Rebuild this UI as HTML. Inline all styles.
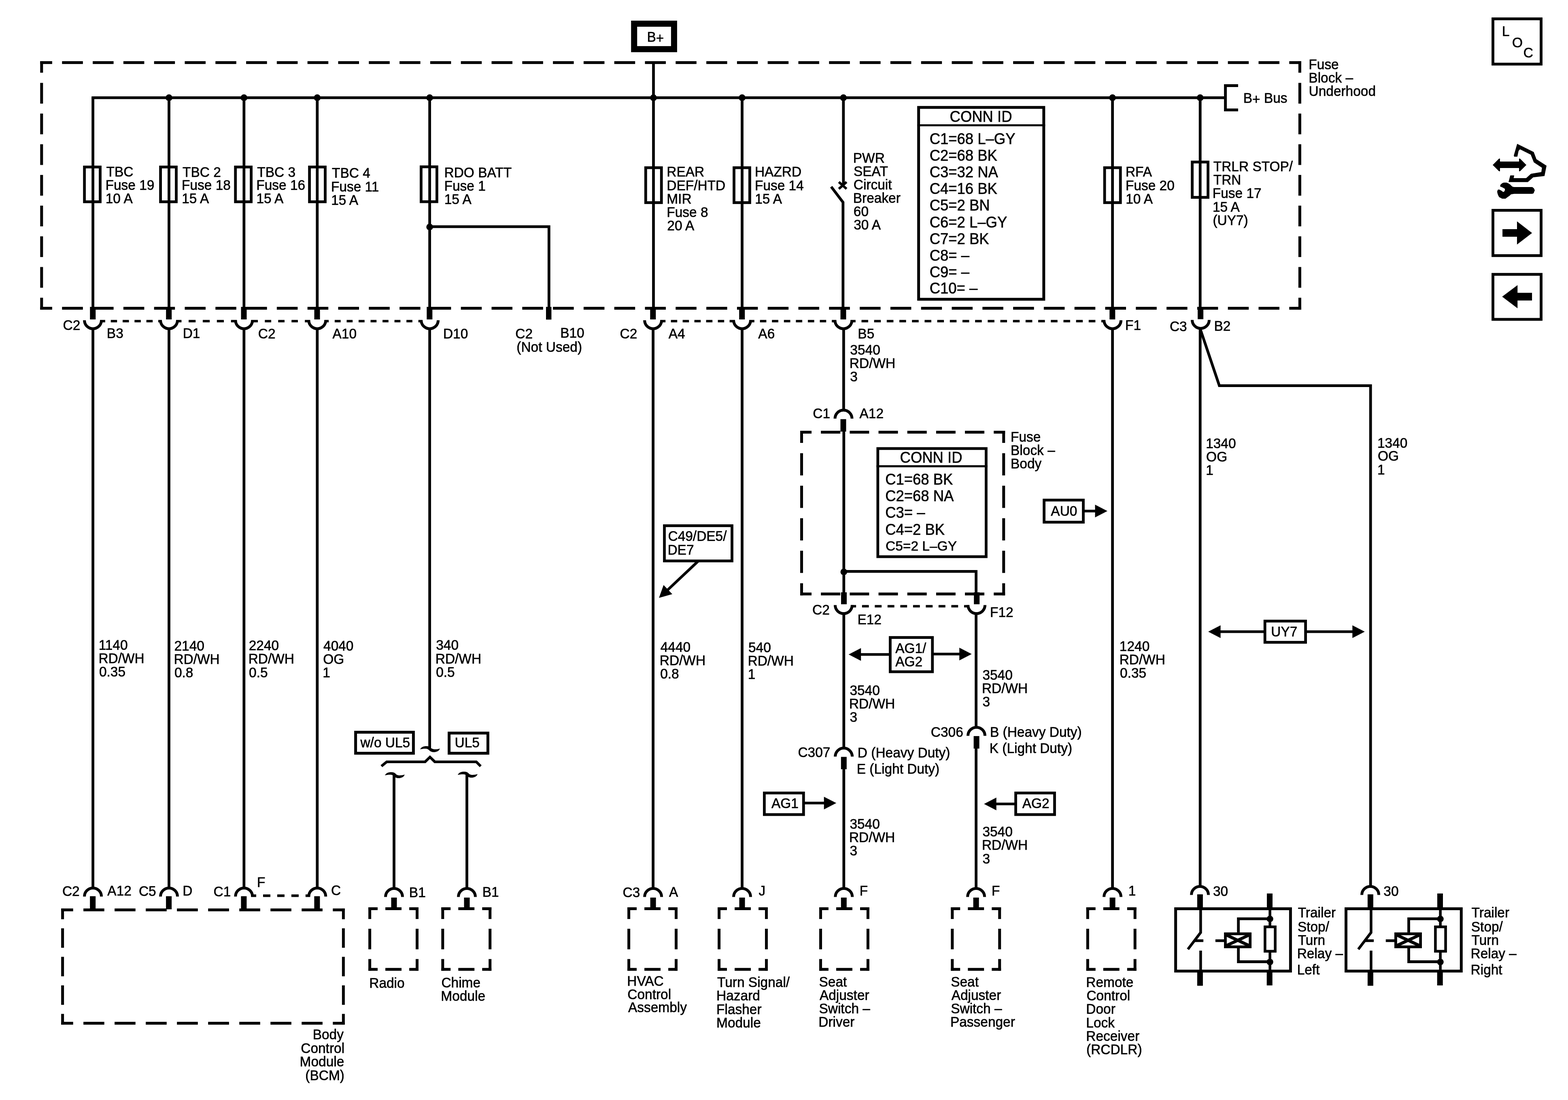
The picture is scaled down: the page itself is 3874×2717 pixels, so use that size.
<!DOCTYPE html>
<html lang="en">
<head>
<meta charset="utf-8">
<title>Power Distribution Schematic</title>
<style>
html,body{margin:0;padding:0;background:#fff;}
body{width:3874px;height:2717px;overflow:hidden;}
svg{display:block;filter:grayscale(1);}
svg text{font-family:"Liberation Sans",sans-serif;fill:#000;stroke:#000;stroke-linejoin:round;}
</style>
</head>
<body>
<svg width="3874" height="2717" viewBox="0 0 3874 2717" stroke="#000" fill="none">
<rect x="0" y="0" width="3874" height="2717" fill="#fff" stroke="none"/>
<line x1="226.2" y1="241.4" x2="3025" y2="241.4" stroke-width="6.8"/>
<path d="M3059,211.5 L3027.6,211.5 L3027.6,271.5 L3059,271.5" fill="none" stroke-width="7" stroke-linejoin="miter" stroke-linecap="butt" stroke-miterlimit="10"/>
<circle cx="417.5" cy="241.4" r="8.3" fill="#000" stroke="none"/>
<circle cx="602.8" cy="241.4" r="8.3" fill="#000" stroke="none"/>
<circle cx="783.8" cy="241.4" r="8.3" fill="#000" stroke="none"/>
<circle cx="1061.6" cy="241.4" r="8.3" fill="#000" stroke="none"/>
<circle cx="1614.5" cy="241.4" r="8.3" fill="#000" stroke="none"/>
<circle cx="1833.5" cy="241.4" r="8.3" fill="#000" stroke="none"/>
<circle cx="2083.8" cy="241.4" r="8.3" fill="#000" stroke="none"/>
<circle cx="2748.6" cy="241.4" r="8.3" fill="#000" stroke="none"/>
<circle cx="2965.2" cy="241.4" r="8.3" fill="#000" stroke="none"/>
<line x1="1614.5" y1="155" x2="1614.5" y2="241.4" stroke-width="6.8"/>
<rect x="1566.7" y="58.5" width="98.7" height="62.9" fill="none" stroke-width="15"/>
<line x1="229.6" y1="241.4" x2="229.6" y2="760" stroke-width="6.8"/>
<line x1="417.5" y1="241.4" x2="417.5" y2="760" stroke-width="6.8"/>
<line x1="602.8" y1="241.4" x2="602.8" y2="760" stroke-width="6.8"/>
<line x1="783.8" y1="241.4" x2="783.8" y2="760" stroke-width="6.8"/>
<line x1="1061.6" y1="241.4" x2="1061.6" y2="760" stroke-width="6.8"/>
<line x1="1614.5" y1="241.4" x2="1614.5" y2="760" stroke-width="6.8"/>
<line x1="1833.5" y1="241.4" x2="1833.5" y2="760" stroke-width="6.8"/>
<line x1="2748.6" y1="241.4" x2="2748.6" y2="760" stroke-width="6.8"/>
<line x1="2965.2" y1="241.4" x2="2965.2" y2="760" stroke-width="6.8"/>
<line x1="2083.8" y1="241.4" x2="2083.8" y2="456" stroke-width="6.8"/>
<line x1="2072.5" y1="449.5" x2="2091.5" y2="466.5" stroke-width="6"/>
<line x1="2091.5" y1="449.5" x2="2072.5" y2="466.5" stroke-width="6"/>
<path d="M2053.6,461.2 L2082.8,499.6 L2082.8,760" fill="none" stroke-width="6.8" stroke-linejoin="miter" stroke-linecap="butt" stroke-miterlimit="10"/>
<circle cx="1061.6" cy="560.6" r="8.3" fill="#000" stroke="none"/>
<path d="M1061.6,559.8 L1356.3,559.8 L1356.3,760" fill="none" stroke-width="6.8" stroke-linejoin="miter" stroke-linecap="butt" stroke-miterlimit="10"/>
<rect x="208.6" y="412.5" width="38.9" height="85.9" fill="none" stroke-width="6.8"/>
<rect x="396.6" y="412.5" width="38.9" height="85.9" fill="none" stroke-width="6.8"/>
<rect x="581.7" y="412.5" width="38.9" height="85.9" fill="none" stroke-width="6.8"/>
<rect x="764.6" y="412.5" width="38.9" height="85.9" fill="none" stroke-width="6.8"/>
<rect x="1040.4" y="412" width="39" height="86.2" fill="none" stroke-width="6.8"/>
<rect x="1595.3" y="414.2" width="38.9" height="86.3" fill="none" stroke-width="6.8"/>
<rect x="1813.5" y="414.2" width="38.9" height="86.3" fill="none" stroke-width="6.8"/>
<rect x="2729.1" y="414.2" width="39.1" height="86.3" fill="none" stroke-width="6.8"/>
<rect x="2945.6" y="400.2" width="39" height="87.3" fill="none" stroke-width="6.8"/>
<rect x="99.3" y="151.1" width="29.6" height="7" fill="#000" stroke="none"/>
<rect x="153.3" y="151.1" width="51.5" height="7" fill="#000" stroke="none"/>
<rect x="229.1" y="151.1" width="51.5" height="7" fill="#000" stroke="none"/>
<rect x="304.9" y="151.1" width="51.5" height="7" fill="#000" stroke="none"/>
<rect x="380.7" y="151.1" width="51.5" height="7" fill="#000" stroke="none"/>
<rect x="456.5" y="151.1" width="51.5" height="7" fill="#000" stroke="none"/>
<rect x="532.3" y="151.1" width="51.5" height="7" fill="#000" stroke="none"/>
<rect x="608.1" y="151.1" width="51.5" height="7" fill="#000" stroke="none"/>
<rect x="683.9" y="151.1" width="51.5" height="7" fill="#000" stroke="none"/>
<rect x="759.7" y="151.1" width="51.5" height="7" fill="#000" stroke="none"/>
<rect x="835.5" y="151.1" width="51.5" height="7" fill="#000" stroke="none"/>
<rect x="911.3" y="151.1" width="51.5" height="7" fill="#000" stroke="none"/>
<rect x="987.1" y="151.1" width="51.5" height="7" fill="#000" stroke="none"/>
<rect x="1062.9" y="151.1" width="51.5" height="7" fill="#000" stroke="none"/>
<rect x="1138.7" y="151.1" width="51.5" height="7" fill="#000" stroke="none"/>
<rect x="1214.5" y="151.1" width="51.5" height="7" fill="#000" stroke="none"/>
<rect x="1290.3" y="151.1" width="51.5" height="7" fill="#000" stroke="none"/>
<rect x="1366.1" y="151.1" width="51.5" height="7" fill="#000" stroke="none"/>
<rect x="1441.9" y="151.1" width="51.5" height="7" fill="#000" stroke="none"/>
<rect x="1517.7" y="151.1" width="51.5" height="7" fill="#000" stroke="none"/>
<rect x="1593.5" y="151.1" width="51.5" height="7" fill="#000" stroke="none"/>
<rect x="1669.3" y="151.1" width="51.5" height="7" fill="#000" stroke="none"/>
<rect x="1745.1" y="151.1" width="51.5" height="7" fill="#000" stroke="none"/>
<rect x="1820.9" y="151.1" width="51.5" height="7" fill="#000" stroke="none"/>
<rect x="1896.7" y="151.1" width="51.5" height="7" fill="#000" stroke="none"/>
<rect x="1972.5" y="151.1" width="51.5" height="7" fill="#000" stroke="none"/>
<rect x="2048.3" y="151.1" width="51.5" height="7" fill="#000" stroke="none"/>
<rect x="2124.1" y="151.1" width="51.5" height="7" fill="#000" stroke="none"/>
<rect x="2199.9" y="151.1" width="51.5" height="7" fill="#000" stroke="none"/>
<rect x="2275.7" y="151.1" width="51.5" height="7" fill="#000" stroke="none"/>
<rect x="2351.5" y="151.1" width="51.5" height="7" fill="#000" stroke="none"/>
<rect x="2427.3" y="151.1" width="51.5" height="7" fill="#000" stroke="none"/>
<rect x="2503.1" y="151.1" width="51.5" height="7" fill="#000" stroke="none"/>
<rect x="2578.9" y="151.1" width="51.5" height="7" fill="#000" stroke="none"/>
<rect x="2654.7" y="151.1" width="51.5" height="7" fill="#000" stroke="none"/>
<rect x="2730.5" y="151.1" width="51.5" height="7" fill="#000" stroke="none"/>
<rect x="2806.3" y="151.1" width="51.5" height="7" fill="#000" stroke="none"/>
<rect x="2882.1" y="151.1" width="51.5" height="7" fill="#000" stroke="none"/>
<rect x="2957.9" y="151.1" width="51.5" height="7" fill="#000" stroke="none"/>
<rect x="3033.7" y="151.1" width="51.5" height="7" fill="#000" stroke="none"/>
<rect x="3109.5" y="151.1" width="51.5" height="7" fill="#000" stroke="none"/>
<rect x="3185.3" y="151.1" width="29.6" height="7" fill="#000" stroke="none"/>
<rect x="99.3" y="757.9" width="29.6" height="7" fill="#000" stroke="none"/>
<rect x="153.3" y="757.9" width="51.5" height="7" fill="#000" stroke="none"/>
<rect x="229.1" y="757.9" width="51.5" height="7" fill="#000" stroke="none"/>
<rect x="304.9" y="757.9" width="51.5" height="7" fill="#000" stroke="none"/>
<rect x="380.7" y="757.9" width="51.5" height="7" fill="#000" stroke="none"/>
<rect x="456.5" y="757.9" width="51.5" height="7" fill="#000" stroke="none"/>
<rect x="532.3" y="757.9" width="51.5" height="7" fill="#000" stroke="none"/>
<rect x="608.1" y="757.9" width="51.5" height="7" fill="#000" stroke="none"/>
<rect x="683.9" y="757.9" width="51.5" height="7" fill="#000" stroke="none"/>
<rect x="759.7" y="757.9" width="51.5" height="7" fill="#000" stroke="none"/>
<rect x="835.5" y="757.9" width="51.5" height="7" fill="#000" stroke="none"/>
<rect x="911.3" y="757.9" width="51.5" height="7" fill="#000" stroke="none"/>
<rect x="987.1" y="757.9" width="51.5" height="7" fill="#000" stroke="none"/>
<rect x="1062.9" y="757.9" width="51.5" height="7" fill="#000" stroke="none"/>
<rect x="1138.7" y="757.9" width="51.5" height="7" fill="#000" stroke="none"/>
<rect x="1214.5" y="757.9" width="51.5" height="7" fill="#000" stroke="none"/>
<rect x="1290.3" y="757.9" width="51.5" height="7" fill="#000" stroke="none"/>
<rect x="1366.1" y="757.9" width="51.5" height="7" fill="#000" stroke="none"/>
<rect x="1441.9" y="757.9" width="51.5" height="7" fill="#000" stroke="none"/>
<rect x="1517.7" y="757.9" width="51.5" height="7" fill="#000" stroke="none"/>
<rect x="1593.5" y="757.9" width="51.5" height="7" fill="#000" stroke="none"/>
<rect x="1669.3" y="757.9" width="51.5" height="7" fill="#000" stroke="none"/>
<rect x="1745.1" y="757.9" width="51.5" height="7" fill="#000" stroke="none"/>
<rect x="1820.9" y="757.9" width="51.5" height="7" fill="#000" stroke="none"/>
<rect x="1896.7" y="757.9" width="51.5" height="7" fill="#000" stroke="none"/>
<rect x="1972.5" y="757.9" width="51.5" height="7" fill="#000" stroke="none"/>
<rect x="2048.3" y="757.9" width="51.5" height="7" fill="#000" stroke="none"/>
<rect x="2124.1" y="757.9" width="51.5" height="7" fill="#000" stroke="none"/>
<rect x="2199.9" y="757.9" width="51.5" height="7" fill="#000" stroke="none"/>
<rect x="2275.7" y="757.9" width="51.5" height="7" fill="#000" stroke="none"/>
<rect x="2351.5" y="757.9" width="51.5" height="7" fill="#000" stroke="none"/>
<rect x="2427.3" y="757.9" width="51.5" height="7" fill="#000" stroke="none"/>
<rect x="2503.1" y="757.9" width="51.5" height="7" fill="#000" stroke="none"/>
<rect x="2578.9" y="757.9" width="51.5" height="7" fill="#000" stroke="none"/>
<rect x="2654.7" y="757.9" width="51.5" height="7" fill="#000" stroke="none"/>
<rect x="2730.5" y="757.9" width="51.5" height="7" fill="#000" stroke="none"/>
<rect x="2806.3" y="757.9" width="51.5" height="7" fill="#000" stroke="none"/>
<rect x="2882.1" y="757.9" width="51.5" height="7" fill="#000" stroke="none"/>
<rect x="2957.9" y="757.9" width="51.5" height="7" fill="#000" stroke="none"/>
<rect x="3033.7" y="757.9" width="51.5" height="7" fill="#000" stroke="none"/>
<rect x="3109.5" y="757.9" width="51.5" height="7" fill="#000" stroke="none"/>
<rect x="3185.3" y="757.9" width="29.6" height="7" fill="#000" stroke="none"/>
<rect x="99.3" y="151.1" width="7" height="28.5" fill="#000" stroke="none"/>
<rect x="99.3" y="204.7" width="7" height="51.2" fill="#000" stroke="none"/>
<rect x="99.3" y="280.5" width="7" height="51.2" fill="#000" stroke="none"/>
<rect x="99.3" y="356.3" width="7" height="51.2" fill="#000" stroke="none"/>
<rect x="99.3" y="432.1" width="7" height="51.2" fill="#000" stroke="none"/>
<rect x="99.3" y="507.9" width="7" height="51.2" fill="#000" stroke="none"/>
<rect x="99.3" y="583.7" width="7" height="51.2" fill="#000" stroke="none"/>
<rect x="99.3" y="659.5" width="7" height="51.2" fill="#000" stroke="none"/>
<rect x="99.3" y="735.4" width="7" height="29.5" fill="#000" stroke="none"/>
<rect x="3207.9" y="151.1" width="7" height="28.5" fill="#000" stroke="none"/>
<rect x="3207.9" y="204.7" width="7" height="51.2" fill="#000" stroke="none"/>
<rect x="3207.9" y="280.5" width="7" height="51.2" fill="#000" stroke="none"/>
<rect x="3207.9" y="356.3" width="7" height="51.2" fill="#000" stroke="none"/>
<rect x="3207.9" y="432.1" width="7" height="51.2" fill="#000" stroke="none"/>
<rect x="3207.9" y="507.9" width="7" height="51.2" fill="#000" stroke="none"/>
<rect x="3207.9" y="583.7" width="7" height="51.2" fill="#000" stroke="none"/>
<rect x="3207.9" y="659.5" width="7" height="51.2" fill="#000" stroke="none"/>
<rect x="3207.9" y="735.4" width="7" height="29.5" fill="#000" stroke="none"/>
<rect x="222.3" y="758" width="14" height="31" fill="#000" stroke="none"/>
<path d="M208.6,790.9 A21.0 21.0 0 0 0 250.6,790.9" fill="none" stroke-width="7.0"/>
<rect x="410.2" y="758" width="14" height="31" fill="#000" stroke="none"/>
<path d="M396.5,790.9 A21.0 21.0 0 0 0 438.5,790.9" fill="none" stroke-width="7.0"/>
<rect x="595.5" y="758" width="14" height="31" fill="#000" stroke="none"/>
<path d="M581.8,790.9 A21.0 21.0 0 0 0 623.8,790.9" fill="none" stroke-width="7.0"/>
<rect x="776.5" y="758" width="14" height="31" fill="#000" stroke="none"/>
<path d="M762.8,790.9 A21.0 21.0 0 0 0 804.8,790.9" fill="none" stroke-width="7.0"/>
<rect x="1054.3" y="758" width="14" height="31" fill="#000" stroke="none"/>
<path d="M1040.6,790.9 A21.0 21.0 0 0 0 1082.6,790.9" fill="none" stroke-width="7.0"/>
<rect x="1606.3" y="758" width="14" height="31" fill="#000" stroke="none"/>
<path d="M1592.6,790.9 A21.0 21.0 0 0 0 1634.6,790.9" fill="none" stroke-width="7.0"/>
<rect x="1826.2" y="758" width="14" height="31" fill="#000" stroke="none"/>
<path d="M1812.5,790.9 A21.0 21.0 0 0 0 1854.5,790.9" fill="none" stroke-width="7.0"/>
<rect x="2076.5" y="758" width="14" height="31" fill="#000" stroke="none"/>
<path d="M2062.8,790.9 A21.0 21.0 0 0 0 2104.8,790.9" fill="none" stroke-width="7.0"/>
<rect x="2741.3" y="758" width="14" height="31" fill="#000" stroke="none"/>
<path d="M2727.6,790.9 A21.0 21.0 0 0 0 2769.6,790.9" fill="none" stroke-width="7.0"/>
<rect x="2959.1" y="758" width="14" height="30.4" fill="#000" stroke="none"/>
<path d="M2945.5,790.2 A21.0 21.0 0 0 0 2987.5,790.2" fill="none" stroke-width="7.0"/>
<rect x="1349" y="758" width="13.4" height="31.4" fill="#000" stroke="none"/>
<rect x="247.1" y="790.2" width="12.8" height="6" fill="#000" stroke="none"/>
<rect x="273.72" y="790.2" width="15.5" height="6" fill="#000" stroke="none"/>
<rect x="303.04" y="790.2" width="15.5" height="6" fill="#000" stroke="none"/>
<rect x="332.36" y="790.2" width="15.5" height="6" fill="#000" stroke="none"/>
<rect x="361.68" y="790.2" width="15.5" height="6" fill="#000" stroke="none"/>
<rect x="391" y="790.2" width="9" height="6" fill="#000" stroke="none"/>
<rect x="435" y="790.2" width="13.4" height="6" fill="#000" stroke="none"/>
<rect x="466.07" y="790.2" width="17.2" height="6" fill="#000" stroke="none"/>
<rect x="500.95" y="790.2" width="17.2" height="6" fill="#000" stroke="none"/>
<rect x="535.83" y="790.2" width="17.2" height="6" fill="#000" stroke="none"/>
<rect x="570.7" y="790.2" width="14.6" height="6" fill="#000" stroke="none"/>
<rect x="620.3" y="790.2" width="16.8" height="6" fill="#000" stroke="none"/>
<rect x="654.35" y="790.2" width="15.7" height="6" fill="#000" stroke="none"/>
<rect x="687.3" y="790.2" width="15.7" height="6" fill="#000" stroke="none"/>
<rect x="720.25" y="790.2" width="15.7" height="6" fill="#000" stroke="none"/>
<rect x="753.2" y="790.2" width="13.1" height="6" fill="#000" stroke="none"/>
<rect x="801.3" y="790.2" width="10.8" height="6" fill="#000" stroke="none"/>
<rect x="826.94" y="790.2" width="14.7" height="6" fill="#000" stroke="none"/>
<rect x="856.48" y="790.2" width="14.7" height="6" fill="#000" stroke="none"/>
<rect x="886.01" y="790.2" width="14.7" height="6" fill="#000" stroke="none"/>
<rect x="915.55" y="790.2" width="14.7" height="6" fill="#000" stroke="none"/>
<rect x="945.09" y="790.2" width="14.7" height="6" fill="#000" stroke="none"/>
<rect x="974.63" y="790.2" width="14.7" height="6" fill="#000" stroke="none"/>
<rect x="1004.16" y="790.2" width="14.7" height="6" fill="#000" stroke="none"/>
<rect x="1033.7" y="790.2" width="10.4" height="6" fill="#000" stroke="none"/>
<rect x="1631.1" y="790.2" width="13.1" height="6" fill="#000" stroke="none"/>
<rect x="1657.6" y="790.2" width="15.6" height="6" fill="#000" stroke="none"/>
<rect x="1686.6" y="790.2" width="15.6" height="6" fill="#000" stroke="none"/>
<rect x="1715.6" y="790.2" width="15.6" height="6" fill="#000" stroke="none"/>
<rect x="1744.6" y="790.2" width="15.6" height="6" fill="#000" stroke="none"/>
<rect x="1773.6" y="790.2" width="15.6" height="6" fill="#000" stroke="none"/>
<rect x="1802.6" y="790.2" width="13.4" height="6" fill="#000" stroke="none"/>
<rect x="1851" y="790.2" width="12.8" height="6" fill="#000" stroke="none"/>
<rect x="1877.67" y="790.2" width="15.7" height="6" fill="#000" stroke="none"/>
<rect x="1907.24" y="790.2" width="15.7" height="6" fill="#000" stroke="none"/>
<rect x="1936.81" y="790.2" width="15.7" height="6" fill="#000" stroke="none"/>
<rect x="1966.39" y="790.2" width="15.7" height="6" fill="#000" stroke="none"/>
<rect x="1995.96" y="790.2" width="15.7" height="6" fill="#000" stroke="none"/>
<rect x="2025.53" y="790.2" width="15.7" height="6" fill="#000" stroke="none"/>
<rect x="2055.1" y="790.2" width="11.2" height="6" fill="#000" stroke="none"/>
<rect x="2101.3" y="790.2" width="12.5" height="6" fill="#000" stroke="none"/>
<rect x="2128.49" y="790.2" width="16.5" height="6" fill="#000" stroke="none"/>
<rect x="2159.67" y="790.2" width="16.5" height="6" fill="#000" stroke="none"/>
<rect x="2190.86" y="790.2" width="16.5" height="6" fill="#000" stroke="none"/>
<rect x="2222.04" y="790.2" width="16.5" height="6" fill="#000" stroke="none"/>
<rect x="2253.22" y="790.2" width="16.5" height="6" fill="#000" stroke="none"/>
<rect x="2284.41" y="790.2" width="16.5" height="6" fill="#000" stroke="none"/>
<rect x="2315.59" y="790.2" width="16.5" height="6" fill="#000" stroke="none"/>
<rect x="2346.78" y="790.2" width="16.5" height="6" fill="#000" stroke="none"/>
<rect x="2377.96" y="790.2" width="16.5" height="6" fill="#000" stroke="none"/>
<rect x="2409.15" y="790.2" width="16.5" height="6" fill="#000" stroke="none"/>
<rect x="2440.33" y="790.2" width="16.5" height="6" fill="#000" stroke="none"/>
<rect x="2471.52" y="790.2" width="16.5" height="6" fill="#000" stroke="none"/>
<rect x="2502.7" y="790.2" width="16.5" height="6" fill="#000" stroke="none"/>
<rect x="2533.89" y="790.2" width="16.5" height="6" fill="#000" stroke="none"/>
<rect x="2565.07" y="790.2" width="16.5" height="6" fill="#000" stroke="none"/>
<rect x="2596.26" y="790.2" width="16.5" height="6" fill="#000" stroke="none"/>
<rect x="2627.44" y="790.2" width="16.5" height="6" fill="#000" stroke="none"/>
<rect x="2658.63" y="790.2" width="16.5" height="6" fill="#000" stroke="none"/>
<rect x="2689.81" y="790.2" width="16.5" height="6" fill="#000" stroke="none"/>
<rect x="2721" y="790.2" width="10.1" height="6" fill="#000" stroke="none"/>
<line x1="229.6" y1="810.9" x2="229.6" y2="2191" stroke-width="6.8"/>
<line x1="417.5" y1="810.9" x2="417.5" y2="2191" stroke-width="6.8"/>
<line x1="602.8" y1="810.9" x2="602.8" y2="2191" stroke-width="6.8"/>
<line x1="783.8" y1="810.9" x2="783.8" y2="2191" stroke-width="6.8"/>
<line x1="1061.6" y1="810.9" x2="1061.6" y2="1849" stroke-width="6.8"/>
<line x1="1613.6" y1="810.9" x2="1613.6" y2="2192" stroke-width="6.8"/>
<line x1="1833.5" y1="810.9" x2="1833.5" y2="2192" stroke-width="6.8"/>
<line x1="2748.6" y1="810.9" x2="2748.6" y2="2192" stroke-width="6.8"/>
<line x1="2965.2" y1="810.9" x2="2965.2" y2="2187" stroke-width="6.8"/>
<path d="M2965.2,812 L3012.6,952.6 L3386.2,952.6 L3386.2,2187" fill="none" stroke-width="6.8" stroke-linejoin="miter" stroke-linecap="butt" stroke-miterlimit="10"/>
<line x1="2084.4" y1="810.9" x2="2084.4" y2="1010.5" stroke-width="6.8"/>
<path d="M2063,1034 A21.0 21.0 0 0 1 2105,1034" fill="none" stroke-width="7.0"/>
<rect x="2076.5" y="1035.3" width="14" height="30.7" fill="#000" stroke="none"/>
<line x1="2084.8" y1="1066" x2="2084.8" y2="1465" stroke-width="6.8"/>
<circle cx="2084.8" cy="1412.6" r="8.3" fill="#000" stroke="none"/>
<path d="M2084.8,1411.4 L2411.6,1411.4 L2411.6,1465" fill="none" stroke-width="6.8" stroke-linejoin="miter" stroke-linecap="butt" stroke-miterlimit="10"/>
<rect x="1977" y="1064" width="28" height="7" fill="#000" stroke="none"/>
<rect x="2028.2" y="1064" width="47.97" height="7" fill="#000" stroke="none"/>
<rect x="2099.37" y="1064" width="47.97" height="7" fill="#000" stroke="none"/>
<rect x="2170.53" y="1064" width="47.97" height="7" fill="#000" stroke="none"/>
<rect x="2241.7" y="1064" width="47.97" height="7" fill="#000" stroke="none"/>
<rect x="2312.87" y="1064" width="47.97" height="7" fill="#000" stroke="none"/>
<rect x="2384.03" y="1064" width="47.97" height="7" fill="#000" stroke="none"/>
<rect x="2455.2" y="1064" width="28" height="7" fill="#000" stroke="none"/>
<rect x="1977" y="1463.6" width="28" height="7" fill="#000" stroke="none"/>
<rect x="2028.2" y="1463.6" width="47.97" height="7" fill="#000" stroke="none"/>
<rect x="2099.37" y="1463.6" width="47.97" height="7" fill="#000" stroke="none"/>
<rect x="2170.53" y="1463.6" width="47.97" height="7" fill="#000" stroke="none"/>
<rect x="2241.7" y="1463.6" width="47.97" height="7" fill="#000" stroke="none"/>
<rect x="2312.87" y="1463.6" width="47.97" height="7" fill="#000" stroke="none"/>
<rect x="2384.03" y="1463.6" width="47.97" height="7" fill="#000" stroke="none"/>
<rect x="2455.2" y="1463.6" width="28" height="7" fill="#000" stroke="none"/>
<rect x="1977" y="1064" width="7" height="30" fill="#000" stroke="none"/>
<rect x="1977" y="1119.4" width="7" height="54.9" fill="#000" stroke="none"/>
<rect x="1977" y="1199.7" width="7" height="54.9" fill="#000" stroke="none"/>
<rect x="1977" y="1280" width="7" height="54.9" fill="#000" stroke="none"/>
<rect x="1977" y="1360.3" width="7" height="54.9" fill="#000" stroke="none"/>
<rect x="1977" y="1440.6" width="7" height="30" fill="#000" stroke="none"/>
<rect x="2476.2" y="1064" width="7" height="30" fill="#000" stroke="none"/>
<rect x="2476.2" y="1119.4" width="7" height="54.9" fill="#000" stroke="none"/>
<rect x="2476.2" y="1199.7" width="7" height="54.9" fill="#000" stroke="none"/>
<rect x="2476.2" y="1280" width="7" height="54.9" fill="#000" stroke="none"/>
<rect x="2476.2" y="1360.3" width="7" height="54.9" fill="#000" stroke="none"/>
<rect x="2476.2" y="1440.6" width="7" height="30" fill="#000" stroke="none"/>
<rect x="2078" y="1463" width="14" height="29.5" fill="#000" stroke="none"/>
<path d="M2063.4,1494.6 A21.0 21.0 0 0 0 2105.4,1494.6" fill="none" stroke-width="7.0"/>
<rect x="2406.2" y="1463" width="14" height="29.5" fill="#000" stroke="none"/>
<path d="M2391.6,1494.6 A21.0 21.0 0 0 0 2433.6,1494.6" fill="none" stroke-width="7.0"/>
<rect x="2101.9" y="1494.4" width="13.2" height="6" fill="#000" stroke="none"/>
<rect x="2129.81" y="1494.4" width="16.8" height="6" fill="#000" stroke="none"/>
<rect x="2161.32" y="1494.4" width="16.8" height="6" fill="#000" stroke="none"/>
<rect x="2192.83" y="1494.4" width="16.8" height="6" fill="#000" stroke="none"/>
<rect x="2224.34" y="1494.4" width="16.8" height="6" fill="#000" stroke="none"/>
<rect x="2255.86" y="1494.4" width="16.8" height="6" fill="#000" stroke="none"/>
<rect x="2287.37" y="1494.4" width="16.8" height="6" fill="#000" stroke="none"/>
<rect x="2318.88" y="1494.4" width="16.8" height="6" fill="#000" stroke="none"/>
<rect x="2350.39" y="1494.4" width="16.8" height="6" fill="#000" stroke="none"/>
<rect x="2381.9" y="1494.4" width="13.2" height="6" fill="#000" stroke="none"/>
<line x1="2084.8" y1="1514.6" x2="2084.8" y2="1845.5" stroke-width="6.8"/>
<path d="M2063.6,1868.8 A21.0 21.0 0 0 1 2105.6,1868.8" fill="none" stroke-width="7.0"/>
<rect x="2077.8" y="1869.5" width="14" height="30.5" fill="#000" stroke="none"/>
<line x1="2084.8" y1="1898" x2="2084.8" y2="2192" stroke-width="6.8"/>
<line x1="2411.6" y1="1514.6" x2="2411.6" y2="1794" stroke-width="6.8"/>
<path d="M2391.5,1817.4 A21.0 21.0 0 0 1 2433.5,1817.4" fill="none" stroke-width="7.0"/>
<rect x="2405.6" y="1818.1" width="14" height="30.9" fill="#000" stroke="none"/>
<line x1="2411.6" y1="1847" x2="2411.6" y2="2192" stroke-width="6.8"/>
<rect x="2269.6" y="265.3" width="309.2" height="473.9" fill="none" stroke-width="7"/>
<rect x="2266.1" y="307" width="316.2" height="4.9" fill="#000" stroke="none"/>
<rect x="2168.8" y="1107.9" width="267.6" height="267.1" fill="none" stroke-width="6.8"/>
<rect x="2165.4" y="1149.1" width="274.4" height="5.1" fill="#000" stroke="none"/>
<rect x="2579.6" y="1235.2" width="96.9" height="54.6" fill="none" stroke-width="6.8"/>
<polygon points="2736,1262.3 2705.5,1246.6 2705.5,1278" fill="#000" stroke="none"/>
<line x1="2679" y1="1262.3" x2="2706.5" y2="1262.3" stroke-width="6.5"/>
<rect x="1641.5" y="1298.5" width="167" height="87" fill="none" stroke-width="6.8"/>
<line x1="1725" y1="1386" x2="1648" y2="1458.6" stroke-width="6.6"/>
<polygon points="1628.1,1476.7 1639.5,1445.1 1661,1467.6" fill="#000" stroke="none"/>
<rect x="878.6" y="1808.6" width="142.8" height="51.9" fill="none" stroke-width="7"/>
<rect x="1109.6" y="1810.7" width="95.8" height="49.8" fill="none" stroke-width="7"/>
<rect x="2199.4" y="1574.6" width="104.3" height="84.6" fill="none" stroke-width="6.8"/>
<polygon points="2096.7,1616.5 2127.2,1600.8 2127.2,1632.2" fill="#000" stroke="none"/>
<line x1="2197" y1="1616.5" x2="2126.2" y2="1616.5" stroke-width="6.5"/>
<polygon points="2400.7,1615.5 2370.2,1599.8 2370.2,1631.2" fill="#000" stroke="none"/>
<line x1="2306" y1="1615.5" x2="2371.2" y2="1615.5" stroke-width="6.5"/>
<rect x="1888.4" y="1958.7" width="96.9" height="53.3" fill="none" stroke-width="6.8"/>
<polygon points="2066.2,1983.6 2035.7,1967.9 2035.7,1999.3" fill="#000" stroke="none"/>
<line x1="1988" y1="1983.6" x2="2036.7" y2="1983.6" stroke-width="6.5"/>
<rect x="2509.5" y="1958.7" width="96" height="53.3" fill="none" stroke-width="6.8"/>
<polygon points="2431.2,1985.8 2461.7,1970.1 2461.7,2001.5" fill="#000" stroke="none"/>
<line x1="2507" y1="1985.8" x2="2460.7" y2="1985.8" stroke-width="6.5"/>
<rect x="3125.2" y="1534.1" width="100.4" height="52.4" fill="none" stroke-width="6.8"/>
<polygon points="2985.1,1560.3 3015.6,1544.6 3015.6,1576" fill="#000" stroke="none"/>
<line x1="3122.5" y1="1560.3" x2="3014.6" y2="1560.3" stroke-width="6.5"/>
<polygon points="3371.8,1560.3 3341.3,1544.6 3341.3,1576" fill="#000" stroke="none"/>
<line x1="3228.5" y1="1560.3" x2="3342.3" y2="1560.3" stroke-width="6.5"/>
<path transform="translate(1062.5,1850.3)" d="M-24.5,0.5 C-22,-5 -16,-7.6 -8,-7.4 C0,-7.2 2,-3 4.5,-1.2 C9,1.6 17,0.6 24.5,-1.4 C22,5 15,7.8 8,7.4 C1,7 -2,2.6 -5,0.4 C-9,-1.8 -17,-1.2 -24.5,0.5 Z" fill="#000" stroke="none"/>
<path d="M942.4,1892.6 L955.4,1881.7 L1050.3,1881.7 L1062.3,1870 L1074.3,1881.7 L1176.8,1881.7 L1187.6,1892.6" fill="none" stroke-width="6.5" stroke-linejoin="miter" stroke-linecap="butt" stroke-miterlimit="10"/>
<path transform="translate(975.5,1914.6)" d="M-24.5,0.5 C-22,-5 -16,-7.6 -8,-7.4 C0,-7.2 2,-3 4.5,-1.2 C9,1.6 17,0.6 24.5,-1.4 C22,5 15,7.8 8,7.4 C1,7 -2,2.6 -5,0.4 C-9,-1.8 -17,-1.2 -24.5,0.5 Z" fill="#000" stroke="none"/>
<path transform="translate(1155.5,1913.4)" d="M-24.5,0.5 C-22,-5 -16,-7.6 -8,-7.4 C0,-7.2 2,-3 4.5,-1.2 C9,1.6 17,0.6 24.5,-1.4 C22,5 15,7.8 8,7.4 C1,7 -2,2.6 -5,0.4 C-9,-1.8 -17,-1.2 -24.5,0.5 Z" fill="#000" stroke="none"/>
<line x1="973.5" y1="1914" x2="973.5" y2="2192" stroke-width="6.8"/>
<line x1="1153.5" y1="1913" x2="1153.5" y2="2192" stroke-width="6.8"/>
<rect x="151.1" y="2243.9" width="29.6" height="7" fill="#000" stroke="none"/>
<rect x="206.1" y="2243.9" width="51.62" height="7" fill="#000" stroke="none"/>
<rect x="283.12" y="2243.9" width="51.62" height="7" fill="#000" stroke="none"/>
<rect x="360.15" y="2243.9" width="51.62" height="7" fill="#000" stroke="none"/>
<rect x="437.17" y="2243.9" width="51.62" height="7" fill="#000" stroke="none"/>
<rect x="514.2" y="2243.9" width="51.62" height="7" fill="#000" stroke="none"/>
<rect x="591.22" y="2243.9" width="51.62" height="7" fill="#000" stroke="none"/>
<rect x="668.25" y="2243.9" width="51.62" height="7" fill="#000" stroke="none"/>
<rect x="745.27" y="2243.9" width="51.62" height="7" fill="#000" stroke="none"/>
<rect x="822.3" y="2243.9" width="29.6" height="7" fill="#000" stroke="none"/>
<rect x="151.1" y="2523.9" width="29.6" height="7" fill="#000" stroke="none"/>
<rect x="206.1" y="2523.9" width="51.62" height="7" fill="#000" stroke="none"/>
<rect x="283.12" y="2523.9" width="51.62" height="7" fill="#000" stroke="none"/>
<rect x="360.15" y="2523.9" width="51.62" height="7" fill="#000" stroke="none"/>
<rect x="437.17" y="2523.9" width="51.62" height="7" fill="#000" stroke="none"/>
<rect x="514.2" y="2523.9" width="51.62" height="7" fill="#000" stroke="none"/>
<rect x="591.22" y="2523.9" width="51.62" height="7" fill="#000" stroke="none"/>
<rect x="668.25" y="2523.9" width="51.62" height="7" fill="#000" stroke="none"/>
<rect x="745.27" y="2523.9" width="51.62" height="7" fill="#000" stroke="none"/>
<rect x="822.3" y="2523.9" width="29.6" height="7" fill="#000" stroke="none"/>
<rect x="151.1" y="2243.9" width="7" height="26.6" fill="#000" stroke="none"/>
<rect x="151.1" y="2292.9" width="7" height="48.07" fill="#000" stroke="none"/>
<rect x="151.1" y="2363.37" width="7" height="48.07" fill="#000" stroke="none"/>
<rect x="151.1" y="2433.83" width="7" height="48.07" fill="#000" stroke="none"/>
<rect x="151.1" y="2504.3" width="7" height="26.6" fill="#000" stroke="none"/>
<rect x="844.9" y="2243.9" width="7" height="26.6" fill="#000" stroke="none"/>
<rect x="844.9" y="2292.9" width="7" height="48.07" fill="#000" stroke="none"/>
<rect x="844.9" y="2363.37" width="7" height="48.07" fill="#000" stroke="none"/>
<rect x="844.9" y="2433.83" width="7" height="48.07" fill="#000" stroke="none"/>
<rect x="844.9" y="2504.3" width="7" height="26.6" fill="#000" stroke="none"/>
<path d="M208.6,2214.4 A21.0 21.0 0 0 1 250.6,2214.4" fill="none" stroke-width="7.0"/>
<rect x="222.2" y="2213.6" width="14" height="32.4" fill="#000" stroke="none"/>
<path d="M396.5,2214.4 A21.0 21.0 0 0 1 438.5,2214.4" fill="none" stroke-width="7.0"/>
<rect x="410.1" y="2213.6" width="14" height="32.4" fill="#000" stroke="none"/>
<path d="M581.8,2214.4 A21.0 21.0 0 0 1 623.8,2214.4" fill="none" stroke-width="7.0"/>
<rect x="595.4" y="2213.6" width="14" height="32.4" fill="#000" stroke="none"/>
<path d="M762.8,2214.4 A21.0 21.0 0 0 1 804.8,2214.4" fill="none" stroke-width="7.0"/>
<rect x="776.4" y="2213.6" width="14" height="32.4" fill="#000" stroke="none"/>
<rect x="620.3" y="2209.2" width="12.7" height="6.4" fill="#000" stroke="none"/>
<rect x="649.98" y="2209.2" width="18" height="6.4" fill="#000" stroke="none"/>
<rect x="684.95" y="2209.2" width="18" height="6.4" fill="#000" stroke="none"/>
<rect x="719.93" y="2209.2" width="18" height="6.4" fill="#000" stroke="none"/>
<rect x="754.9" y="2209.2" width="11.4" height="6.4" fill="#000" stroke="none"/>
<rect x="910.1" y="2241" width="22.9" height="7" fill="#000" stroke="none"/>
<rect x="952.1" y="2241" width="39.9" height="7" fill="#000" stroke="none"/>
<rect x="1011.1" y="2241" width="22.9" height="7" fill="#000" stroke="none"/>
<rect x="910.1" y="2390.8" width="22.9" height="7" fill="#000" stroke="none"/>
<rect x="952.1" y="2390.8" width="39.9" height="7" fill="#000" stroke="none"/>
<rect x="1011.1" y="2390.8" width="22.9" height="7" fill="#000" stroke="none"/>
<rect x="910.1" y="2241" width="7" height="29" fill="#000" stroke="none"/>
<rect x="910.1" y="2294" width="7" height="50.8" fill="#000" stroke="none"/>
<rect x="910.1" y="2368.8" width="7" height="29" fill="#000" stroke="none"/>
<rect x="1027" y="2241" width="7" height="29" fill="#000" stroke="none"/>
<rect x="1027" y="2294" width="7" height="50.8" fill="#000" stroke="none"/>
<rect x="1027" y="2368.8" width="7" height="29" fill="#000" stroke="none"/>
<path d="M952.5,2215.4 A21.0 21.0 0 0 1 994.5,2215.4" fill="none" stroke-width="7.0"/>
<rect x="966.5" y="2217" width="14" height="26" fill="#000" stroke="none"/>
<rect x="1090.3" y="2241" width="22.9" height="7" fill="#000" stroke="none"/>
<rect x="1132.3" y="2241" width="39.9" height="7" fill="#000" stroke="none"/>
<rect x="1191.3" y="2241" width="22.9" height="7" fill="#000" stroke="none"/>
<rect x="1090.3" y="2390.8" width="22.9" height="7" fill="#000" stroke="none"/>
<rect x="1132.3" y="2390.8" width="39.9" height="7" fill="#000" stroke="none"/>
<rect x="1191.3" y="2390.8" width="22.9" height="7" fill="#000" stroke="none"/>
<rect x="1090.3" y="2241" width="7" height="29" fill="#000" stroke="none"/>
<rect x="1090.3" y="2294" width="7" height="50.8" fill="#000" stroke="none"/>
<rect x="1090.3" y="2368.8" width="7" height="29" fill="#000" stroke="none"/>
<rect x="1207.2" y="2241" width="7" height="29" fill="#000" stroke="none"/>
<rect x="1207.2" y="2294" width="7" height="50.8" fill="#000" stroke="none"/>
<rect x="1207.2" y="2368.8" width="7" height="29" fill="#000" stroke="none"/>
<path d="M1132.5,2215.4 A21.0 21.0 0 0 1 1174.5,2215.4" fill="none" stroke-width="7.0"/>
<rect x="1146.5" y="2217" width="14" height="26" fill="#000" stroke="none"/>
<rect x="1550.1" y="2241" width="22.9" height="7" fill="#000" stroke="none"/>
<rect x="1592.1" y="2241" width="39.9" height="7" fill="#000" stroke="none"/>
<rect x="1651.1" y="2241" width="22.9" height="7" fill="#000" stroke="none"/>
<rect x="1550.1" y="2390.8" width="22.9" height="7" fill="#000" stroke="none"/>
<rect x="1592.1" y="2390.8" width="39.9" height="7" fill="#000" stroke="none"/>
<rect x="1651.1" y="2390.8" width="22.9" height="7" fill="#000" stroke="none"/>
<rect x="1550.1" y="2241" width="7" height="29" fill="#000" stroke="none"/>
<rect x="1550.1" y="2294" width="7" height="50.8" fill="#000" stroke="none"/>
<rect x="1550.1" y="2368.8" width="7" height="29" fill="#000" stroke="none"/>
<rect x="1667" y="2241" width="7" height="29" fill="#000" stroke="none"/>
<rect x="1667" y="2294" width="7" height="50.8" fill="#000" stroke="none"/>
<rect x="1667" y="2368.8" width="7" height="29" fill="#000" stroke="none"/>
<path d="M1592.6,2215.4 A21.0 21.0 0 0 1 1634.6,2215.4" fill="none" stroke-width="7.0"/>
<rect x="1606.6" y="2217" width="14" height="26" fill="#000" stroke="none"/>
<rect x="1773.1" y="2241" width="22.9" height="7" fill="#000" stroke="none"/>
<rect x="1815.1" y="2241" width="39.9" height="7" fill="#000" stroke="none"/>
<rect x="1874.1" y="2241" width="22.9" height="7" fill="#000" stroke="none"/>
<rect x="1773.1" y="2390.8" width="22.9" height="7" fill="#000" stroke="none"/>
<rect x="1815.1" y="2390.8" width="39.9" height="7" fill="#000" stroke="none"/>
<rect x="1874.1" y="2390.8" width="22.9" height="7" fill="#000" stroke="none"/>
<rect x="1773.1" y="2241" width="7" height="29" fill="#000" stroke="none"/>
<rect x="1773.1" y="2294" width="7" height="50.8" fill="#000" stroke="none"/>
<rect x="1773.1" y="2368.8" width="7" height="29" fill="#000" stroke="none"/>
<rect x="1890" y="2241" width="7" height="29" fill="#000" stroke="none"/>
<rect x="1890" y="2294" width="7" height="50.8" fill="#000" stroke="none"/>
<rect x="1890" y="2368.8" width="7" height="29" fill="#000" stroke="none"/>
<path d="M1812.5,2215.4 A21.0 21.0 0 0 1 1854.5,2215.4" fill="none" stroke-width="7.0"/>
<rect x="1826.5" y="2217" width="14" height="26" fill="#000" stroke="none"/>
<rect x="2024" y="2241" width="22.9" height="7" fill="#000" stroke="none"/>
<rect x="2066" y="2241" width="39.9" height="7" fill="#000" stroke="none"/>
<rect x="2125" y="2241" width="22.9" height="7" fill="#000" stroke="none"/>
<rect x="2024" y="2390.8" width="22.9" height="7" fill="#000" stroke="none"/>
<rect x="2066" y="2390.8" width="39.9" height="7" fill="#000" stroke="none"/>
<rect x="2125" y="2390.8" width="22.9" height="7" fill="#000" stroke="none"/>
<rect x="2024" y="2241" width="7" height="29" fill="#000" stroke="none"/>
<rect x="2024" y="2294" width="7" height="50.8" fill="#000" stroke="none"/>
<rect x="2024" y="2368.8" width="7" height="29" fill="#000" stroke="none"/>
<rect x="2140.9" y="2241" width="7" height="29" fill="#000" stroke="none"/>
<rect x="2140.9" y="2294" width="7" height="50.8" fill="#000" stroke="none"/>
<rect x="2140.9" y="2368.8" width="7" height="29" fill="#000" stroke="none"/>
<path d="M2063.8,2215.4 A21.0 21.0 0 0 1 2105.8,2215.4" fill="none" stroke-width="7.0"/>
<rect x="2077.8" y="2217" width="14" height="26" fill="#000" stroke="none"/>
<rect x="2349.3" y="2241" width="22.9" height="7" fill="#000" stroke="none"/>
<rect x="2391.3" y="2241" width="39.9" height="7" fill="#000" stroke="none"/>
<rect x="2450.3" y="2241" width="22.9" height="7" fill="#000" stroke="none"/>
<rect x="2349.3" y="2390.8" width="22.9" height="7" fill="#000" stroke="none"/>
<rect x="2391.3" y="2390.8" width="39.9" height="7" fill="#000" stroke="none"/>
<rect x="2450.3" y="2390.8" width="22.9" height="7" fill="#000" stroke="none"/>
<rect x="2349.3" y="2241" width="7" height="29" fill="#000" stroke="none"/>
<rect x="2349.3" y="2294" width="7" height="50.8" fill="#000" stroke="none"/>
<rect x="2349.3" y="2368.8" width="7" height="29" fill="#000" stroke="none"/>
<rect x="2466.2" y="2241" width="7" height="29" fill="#000" stroke="none"/>
<rect x="2466.2" y="2294" width="7" height="50.8" fill="#000" stroke="none"/>
<rect x="2466.2" y="2368.8" width="7" height="29" fill="#000" stroke="none"/>
<path d="M2390.6,2215.4 A21.0 21.0 0 0 1 2432.6,2215.4" fill="none" stroke-width="7.0"/>
<rect x="2404.6" y="2217" width="14" height="26" fill="#000" stroke="none"/>
<rect x="2683.8" y="2241" width="22.9" height="7" fill="#000" stroke="none"/>
<rect x="2725.8" y="2241" width="39.9" height="7" fill="#000" stroke="none"/>
<rect x="2784.8" y="2241" width="22.9" height="7" fill="#000" stroke="none"/>
<rect x="2683.8" y="2390.8" width="22.9" height="7" fill="#000" stroke="none"/>
<rect x="2725.8" y="2390.8" width="39.9" height="7" fill="#000" stroke="none"/>
<rect x="2784.8" y="2390.8" width="22.9" height="7" fill="#000" stroke="none"/>
<rect x="2683.8" y="2241" width="7" height="29" fill="#000" stroke="none"/>
<rect x="2683.8" y="2294" width="7" height="50.8" fill="#000" stroke="none"/>
<rect x="2683.8" y="2368.8" width="7" height="29" fill="#000" stroke="none"/>
<rect x="2800.7" y="2241" width="7" height="29" fill="#000" stroke="none"/>
<rect x="2800.7" y="2294" width="7" height="50.8" fill="#000" stroke="none"/>
<rect x="2800.7" y="2368.8" width="7" height="29" fill="#000" stroke="none"/>
<path d="M2727.6,2215.4 A21.0 21.0 0 0 1 2769.6,2215.4" fill="none" stroke-width="7.0"/>
<rect x="2741.6" y="2217" width="14" height="26" fill="#000" stroke="none"/>
<rect x="2904.6" y="2244.6" width="283.8" height="154" fill="none" stroke-width="7"/>
<path d="M2943.6,2210.4 A21.0 21.0 0 0 1 2985.6,2210.4" fill="none" stroke-width="7.0"/>
<rect x="2957.9" y="2209" width="14" height="33" fill="#000" stroke="none"/>
<rect x="2957.9" y="2401" width="14" height="33.8" fill="#000" stroke="none"/>
<path d="M2966.4,2241 L2966.4,2303.3 L2934.9,2344.7" fill="none" stroke-width="6.6" stroke-linejoin="miter" stroke-linecap="butt" stroke-miterlimit="10"/>
<line x1="2952.4" y1="2323.5" x2="2973.1" y2="2323.5" stroke-width="6.6"/>
<line x1="2966.4" y1="2348" x2="2966.4" y2="2402" stroke-width="6.6"/>
<line x1="3002.9" y1="2323.5" x2="3025.1" y2="2323.5" stroke-width="6.6"/>
<rect x="3027.5" y="2306.5" width="61.2" height="32.2" fill="none" stroke-width="6.8"/>
<line x1="3030.9" y1="2309.9" x2="3085.3" y2="2335.3" stroke-width="7.6"/>
<line x1="3030.9" y1="2335.3" x2="3085.3" y2="2309.9" stroke-width="7.6"/>
<path d="M3059.6,2303.1 L3059.6,2269.4 L3137.6,2269.4" fill="none" stroke-width="6.8" stroke-linejoin="miter" stroke-linecap="butt" stroke-miterlimit="10"/>
<path d="M3059.6,2342.1 L3059.6,2375.5 L3137.6,2375.5" fill="none" stroke-width="6.8" stroke-linejoin="miter" stroke-linecap="butt" stroke-miterlimit="10"/>
<line x1="3137.6" y1="2241" x2="3137.6" y2="2402" stroke-width="6.6"/>
<circle cx="3137.6" cy="2269.8" r="8.2" fill="#000" stroke="none"/>
<circle cx="3137.6" cy="2376.1" r="8.2" fill="#000" stroke="none"/>
<rect x="3125.4" y="2289.3" width="25.2" height="60.3" fill="#fff" stroke-width="6.6"/>
<rect x="3130" y="2206.9" width="14" height="35.1" fill="#000" stroke="none"/>
<rect x="3129.7" y="2401" width="14" height="33" fill="#000" stroke="none"/>
<rect x="3325.5" y="2244.6" width="284.8" height="154" fill="none" stroke-width="7"/>
<path d="M3364.6,2210.4 A21.0 21.0 0 0 1 3406.6,2210.4" fill="none" stroke-width="7.0"/>
<rect x="3378.9" y="2209" width="14" height="33" fill="#000" stroke="none"/>
<rect x="3378.9" y="2401" width="14" height="33.8" fill="#000" stroke="none"/>
<path d="M3387.4,2241 L3387.4,2303.3 L3355.9,2344.7" fill="none" stroke-width="6.6" stroke-linejoin="miter" stroke-linecap="butt" stroke-miterlimit="10"/>
<line x1="3373.4" y1="2323.5" x2="3394.1" y2="2323.5" stroke-width="6.6"/>
<line x1="3387.4" y1="2348" x2="3387.4" y2="2402" stroke-width="6.6"/>
<line x1="3423.8" y1="2323.5" x2="3446" y2="2323.5" stroke-width="6.6"/>
<rect x="3448.4" y="2306.5" width="61.2" height="32.2" fill="none" stroke-width="6.8"/>
<line x1="3451.8" y1="2309.9" x2="3506.2" y2="2335.3" stroke-width="7.6"/>
<line x1="3451.8" y1="2335.3" x2="3506.2" y2="2309.9" stroke-width="7.6"/>
<path d="M3480.5,2303.1 L3480.5,2269.4 L3558.6,2269.4" fill="none" stroke-width="6.8" stroke-linejoin="miter" stroke-linecap="butt" stroke-miterlimit="10"/>
<path d="M3480.5,2342.1 L3480.5,2375.5 L3558.6,2375.5" fill="none" stroke-width="6.8" stroke-linejoin="miter" stroke-linecap="butt" stroke-miterlimit="10"/>
<line x1="3558.6" y1="2241" x2="3558.6" y2="2402" stroke-width="6.6"/>
<circle cx="3558.6" cy="2269.8" r="8.2" fill="#000" stroke="none"/>
<circle cx="3558.6" cy="2376.1" r="8.2" fill="#000" stroke="none"/>
<rect x="3546.4" y="2289.3" width="25.2" height="60.3" fill="#fff" stroke-width="6.6"/>
<rect x="3551" y="2206.9" width="14" height="35.1" fill="#000" stroke="none"/>
<rect x="3550.7" y="2401" width="14" height="33" fill="#000" stroke="none"/>
<rect x="3688.55" y="46.55" width="119" height="111.8" fill="none" stroke-width="6.9"/>
<rect x="3688.55" y="519.45" width="119" height="111.9" fill="none" stroke-width="6.9"/>
<polygon points="3712.1,566 3748,566 3748,546.8 3785.2,575.4 3748,604.1 3748,584.8 3712.1,584.8" fill="#000" stroke="none"/>
<rect x="3688.55" y="677.65" width="119" height="111.2" fill="none" stroke-width="6.9"/>
<polygon points="3785.1,723.3 3749.3,723.3 3749.3,704.2 3711.3,732.8 3749.3,761.4 3749.3,742.2 3785.1,742.2" fill="#000" stroke="none"/>
<polygon points="3688,407.4 3703.6,391.8 3706,391.8 3706,399.1 3753,399.1 3753,391.8 3755.5,391.8 3771.1,407.4 3755.5,423 3753,423 3753,414.9 3706,414.9 3706,423 3703.6,423" fill="#000" stroke="none"/>
<polygon points="3740.14,384.01 3741.01,387.06 3748.85,387.06 3751.9,372.68 3755.38,368.76 3781.95,382 3789.53,400.99 3809.65,414.32 3808.08,424.95 3782.39,429.3 3770.63,439.93 3739.7,439.93 3741.01,433.22 3731.43,433.22 3727.07,449.77 3774.81,449.77 3788.05,438.01 3815.92,434.79 3820.98,409.27 3796.06,393.15 3789.36,375.47 3748.41,355.26" fill="#000" stroke="none"/>
<polygon points="3706.17,460.51 3707.47,455.71 3712.26,452.06 3715.75,450.92 3721.85,450.92 3726.2,452.4 3730.56,455.28 3736.22,460.77 3740.14,462.07 3785.87,462.07 3789.79,465.3 3791.97,470.09 3788.92,477.49 3785.87,478.8 3741.01,478.8 3733.17,480.1 3729.69,483.59 3724.46,487.07 3719.67,490.73 3711.39,490.73 3704.86,487.51 3702.68,484.9 3700.24,479.23 3698.94,473.57 3700.51,468.78 3703.55,467.91 3708.78,470.52 3713.14,473.83 3715.75,474.01 3718.19,469.65 3717.93,466.17 3712.26,463.12" fill="#000" stroke="none"/>
<text transform="matrix(0.94 0 0 1 1598.45 102.6)" font-size="35.6" stroke-width="0.7">B<tspan dy="3">+</tspan><tspan dy="-3"></tspan></text>
<text transform="matrix(0.94 0 0 1 3233.35 170.6)" font-size="35.6" stroke-width="0.7">Fuse</text>
<text transform="matrix(0.94 0 0 1 3233.35 203.7)" font-size="35.6" stroke-width="0.7">Block –</text>
<text transform="matrix(0.94 0 0 1 3233.52 236.8)" font-size="35.6" stroke-width="0.7">Underhood</text>
<text transform="matrix(0.94 0 0 1 3071.75 253.7)" font-size="35.6" stroke-width="0.7">B<tspan dy="3">+</tspan><tspan dy="-3"> Bus</tspan></text>
<text transform="matrix(0.94 0 0 1 262.55 435.8)" font-size="35.6" stroke-width="0.7">TBC</text>
<text transform="matrix(0.94 0 0 1 260.55 468.6)" font-size="35.6" stroke-width="0.7">Fuse 19</text>
<text transform="matrix(0.94 0 0 1 260.75 501.6)" font-size="35.6" stroke-width="0.7">10 A</text>
<text transform="matrix(0.94 0 0 1 451.05 436.5)" font-size="35.6" stroke-width="0.7">TBC 2</text>
<text transform="matrix(0.94 0 0 1 449.05 469.3)" font-size="35.6" stroke-width="0.7">Fuse 18</text>
<text transform="matrix(0.94 0 0 1 449.25 502.3)" font-size="35.6" stroke-width="0.7">15 A</text>
<text transform="matrix(0.94 0 0 1 635.25 436.5)" font-size="35.6" stroke-width="0.7">TBC 3</text>
<text transform="matrix(0.94 0 0 1 633.25 469.3)" font-size="35.6" stroke-width="0.7">Fuse 16</text>
<text transform="matrix(0.94 0 0 1 633.45 502.3)" font-size="35.6" stroke-width="0.7">15 A</text>
<text transform="matrix(0.94 0 0 1 819.95 439.3)" font-size="35.6" stroke-width="0.7">TBC 4</text>
<text transform="matrix(0.94 0 0 1 817.95 472.8)" font-size="35.6" stroke-width="0.7">Fuse 11</text>
<text transform="matrix(0.94 0 0 1 818.15 505.9)" font-size="35.6" stroke-width="0.7">15 A</text>
<text transform="matrix(0.94 0 0 1 1097.55 437.5)" font-size="35.6" stroke-width="0.7">RDO BATT</text>
<text transform="matrix(0.94 0 0 1 1097.55 471.1)" font-size="35.6" stroke-width="0.7">Fuse 1</text>
<text transform="matrix(0.94 0 0 1 1097.75 504.2)" font-size="35.6" stroke-width="0.7">15 A</text>
<text transform="matrix(0.94 0 0 1 1647.25 436.2)" font-size="35.6" stroke-width="0.7">REAR</text>
<text transform="matrix(0.94 0 0 1 1647.25 469.8)" font-size="35.6" stroke-width="0.7">DEF/HTD</text>
<text transform="matrix(0.94 0 0 1 1647.25 502.9)" font-size="35.6" stroke-width="0.7">MIR</text>
<text transform="matrix(0.94 0 0 1 1647.25 535.5)" font-size="35.6" stroke-width="0.7">Fuse 8</text>
<text transform="matrix(0.94 0 0 1 1648.32 569.1)" font-size="35.6" stroke-width="0.7">20 A</text>
<text transform="matrix(0.94 0 0 1 1864.95 436.2)" font-size="35.6" stroke-width="0.7">HAZRD</text>
<text transform="matrix(0.94 0 0 1 1864.95 469.8)" font-size="35.6" stroke-width="0.7">Fuse 14</text>
<text transform="matrix(0.94 0 0 1 1865.15 502.9)" font-size="35.6" stroke-width="0.7">15 A</text>
<text transform="matrix(0.94 0 0 1 2107.75 401.8)" font-size="35.6" stroke-width="0.7">PWR</text>
<text transform="matrix(0.94 0 0 1 2108.98 434.6)" font-size="35.6" stroke-width="0.7">SEAT</text>
<text transform="matrix(0.94 0 0 1 2108.8 467.8)" font-size="35.6" stroke-width="0.7">Circuit</text>
<text transform="matrix(0.94 0 0 1 2107.75 500.9)" font-size="35.6" stroke-width="0.7">Breaker</text>
<text transform="matrix(0.94 0 0 1 2108.8 533.9)" font-size="35.6" stroke-width="0.7">60</text>
<text transform="matrix(0.94 0 0 1 2109.22 567.1)" font-size="35.6" stroke-width="0.7">30 A</text>
<text transform="matrix(0.94 0 0 1 2780.95 436.2)" font-size="35.6" stroke-width="0.7">RFA</text>
<text transform="matrix(0.94 0 0 1 2780.95 469.8)" font-size="35.6" stroke-width="0.7">Fuse 20</text>
<text transform="matrix(0.94 0 0 1 2781.15 502.9)" font-size="35.6" stroke-width="0.7">10 A</text>
<text transform="matrix(0.94 0 0 1 2997.75 422.7)" font-size="35.6" stroke-width="0.7">TRLR STOP/</text>
<text transform="matrix(0.94 0 0 1 2997.75 455.8)" font-size="35.6" stroke-width="0.7">TRN</text>
<text transform="matrix(0.94 0 0 1 2995.75 488.7)" font-size="35.6" stroke-width="0.7">Fuse 17</text>
<text transform="matrix(0.94 0 0 1 2995.95 522.8)" font-size="35.6" stroke-width="0.7">15 A</text>
<text transform="matrix(0.94 0 0 1 2996.42 555.8)" font-size="35.6" stroke-width="0.7">(UY7)</text>
<text transform="matrix(0.96 0 0 1 2346.58 301.2)" font-size="38" stroke-width="0.7">CONN ID</text>
<text transform="matrix(0.96 0 0 1 2296.65 355.7)" font-size="38" stroke-width="0.7">C1=68 L–GY</text>
<text transform="matrix(0.96 0 0 1 2296.65 396.6)" font-size="38" stroke-width="0.7">C2=68 BK</text>
<text transform="matrix(0.96 0 0 1 2296.65 438.4)" font-size="38" stroke-width="0.7">C3=32 NA</text>
<text transform="matrix(0.96 0 0 1 2296.65 479.4)" font-size="38" stroke-width="0.7">C4=16 BK</text>
<text transform="matrix(0.96 0 0 1 2296.65 520.3)" font-size="38" stroke-width="0.7">C5=2 BN</text>
<text transform="matrix(0.96 0 0 1 2296.65 561.7)" font-size="38" stroke-width="0.7">C6=2 L–GY</text>
<text transform="matrix(0.96 0 0 1 2296.65 603.1)" font-size="38" stroke-width="0.7">C7=2 BK</text>
<text transform="matrix(0.96 0 0 1 2296.65 644)" font-size="38" stroke-width="0.7">C8= –</text>
<text transform="matrix(0.96 0 0 1 2296.65 684.5)" font-size="38" stroke-width="0.7">C9= –</text>
<text transform="matrix(0.96 0 0 1 2296.65 724.7)" font-size="38" stroke-width="0.7">C10= –</text>
<text transform="matrix(0.96 0 0 1 2223.58 1143.2)" font-size="38" stroke-width="0.7">CONN ID</text>
<text transform="matrix(0.96 0 0 1 2187.15 1196.5)" font-size="38" stroke-width="0.7">C1=68 BK</text>
<text transform="matrix(0.96 0 0 1 2187.15 1238.3)" font-size="38" stroke-width="0.7">C2=68 NA</text>
<text transform="matrix(0.96 0 0 1 2187.15 1279.1)" font-size="38" stroke-width="0.7">C3= –</text>
<text transform="matrix(0.96 0 0 1 2187.15 1320.9)" font-size="38" stroke-width="0.7">C4=2 BK</text>
<text transform="matrix(1 0 0 1 2188 1360.1)" font-size="33.5" stroke-width="0.7">C5=2 L–GY</text>
<text transform="matrix(0.94 0 0 1 3710.95 89)" font-size="35.6" stroke-width="0.7">L</text>
<text transform="matrix(0.94 0 0 1 3736.01 117.2)" font-size="35.6" stroke-width="0.7">O</text>
<text transform="matrix(0.94 0 0 1 3763.8 141.7)" font-size="35.6" stroke-width="0.7">C</text>
<text transform="matrix(0.94 0 0 1 155.5 814.9)" font-size="35.6" stroke-width="0.7">C2</text>
<text transform="matrix(0.94 0 0 1 263.85 835)" font-size="35.6" stroke-width="0.7">B3</text>
<text transform="matrix(0.94 0 0 1 451.65 835)" font-size="35.6" stroke-width="0.7">D1</text>
<text transform="matrix(0.94 0 0 1 637.8 835.7)" font-size="35.6" stroke-width="0.7">C2</text>
<text transform="matrix(0.94 0 0 1 821.53 835.7)" font-size="35.6" stroke-width="0.7">A10</text>
<text transform="matrix(0.94 0 0 1 1094.95 835.7)" font-size="35.6" stroke-width="0.7">D10</text>
<text transform="matrix(0.94 0 0 1 1273.3 835.7)" font-size="35.6" stroke-width="0.7">C2</text>
<text transform="matrix(0.94 0 0 1 1384.15 834.3)" font-size="35.6" stroke-width="0.7">B10</text>
<text transform="matrix(0.94 0 0 1 1276.32 868.8)" font-size="35.6" stroke-width="0.7">(Not Used)</text>
<text transform="matrix(0.94 0 0 1 1531.5 836.2)" font-size="35.6" stroke-width="0.7">C2</text>
<text transform="matrix(0.94 0 0 1 1651.63 836.2)" font-size="35.6" stroke-width="0.7">A4</text>
<text transform="matrix(0.94 0 0 1 1873.33 836.2)" font-size="35.6" stroke-width="0.7">A6</text>
<text transform="matrix(0.94 0 0 1 2119.35 835.7)" font-size="35.6" stroke-width="0.7">B5</text>
<text transform="matrix(0.94 0 0 1 2780.05 815)" font-size="35.6" stroke-width="0.7">F1</text>
<text transform="matrix(0.94 0 0 1 2889.9 818.3)" font-size="35.6" stroke-width="0.7">C3</text>
<text transform="matrix(0.94 0 0 1 2999.55 817.4)" font-size="35.6" stroke-width="0.7">B2</text>
<text transform="matrix(0.94 0 0 1 2008.3 1033.4)" font-size="35.6" stroke-width="0.7">C1</text>
<text transform="matrix(0.94 0 0 1 2123.53 1032.7)" font-size="35.6" stroke-width="0.7">A12</text>
<text transform="matrix(0.94 0 0 1 2596.33 1273.9)" font-size="35.6" stroke-width="0.7">AU0</text>
<text transform="matrix(0.94 0 0 1 1650.5 1335.7)" font-size="35.6" stroke-width="0.7">C49/DE5/</text>
<text transform="matrix(0.94 0 0 1 1649.45 1369.6)" font-size="35.6" stroke-width="0.7">DE7</text>
<text transform="matrix(0.94 0 0 1 890.45 1846.4)" font-size="35.6" stroke-width="0.7">w/o UL5</text>
<text transform="matrix(0.94 0 0 1 1123.52 1846.4)" font-size="35.6" stroke-width="0.7">UL5</text>
<text transform="matrix(0.94 0 0 1 2007.1 1518.3)" font-size="35.6" stroke-width="0.7">C2</text>
<text transform="matrix(0.94 0 0 1 2118.45 1542.3)" font-size="35.6" stroke-width="0.7">E12</text>
<text transform="matrix(0.94 0 0 1 2445.95 1524)" font-size="35.6" stroke-width="0.7">F12</text>
<text transform="matrix(0.94 0 0 1 2212.13 1613.2)" font-size="35.6" stroke-width="0.7">AG1/</text>
<text transform="matrix(0.94 0 0 1 2212.13 1645.9)" font-size="35.6" stroke-width="0.7">AG2</text>
<text transform="matrix(0.94 0 0 1 2299.8 1820.1)" font-size="35.6" stroke-width="0.7">C306</text>
<text transform="matrix(0.94 0 0 1 2445.95 1820.1)" font-size="35.6" stroke-width="0.7">B (Heavy Duty)</text>
<text transform="matrix(0.94 0 0 1 2444.65 1860.2)" font-size="35.6" stroke-width="0.7">K (Light Duty)</text>
<text transform="matrix(0.94 0 0 1 1971.4 1870.2)" font-size="35.6" stroke-width="0.7">C307</text>
<text transform="matrix(0.94 0 0 1 2118.85 1871.1)" font-size="35.6" stroke-width="0.7">D (Heavy Duty)</text>
<text transform="matrix(0.94 0 0 1 2116.75 1910.7)" font-size="35.6" stroke-width="0.7">E (Light Duty)</text>
<text transform="matrix(0.94 0 0 1 1906.03 1996.1)" font-size="35.6" stroke-width="0.7">AG1</text>
<text transform="matrix(0.94 0 0 1 2525.73 1996.1)" font-size="35.6" stroke-width="0.7">AG2</text>
<text transform="matrix(0.94 0 0 1 3140.32 1571.9)" font-size="35.6" stroke-width="0.7">UY7</text>
<text transform="matrix(0.94 0 0 1 153.9 2212.8)" font-size="35.6" stroke-width="0.7">C2</text>
<text transform="matrix(0.94 0 0 1 265.33 2211.5)" font-size="35.6" stroke-width="0.7">A12</text>
<text transform="matrix(0.94 0 0 1 342.9 2212.8)" font-size="35.6" stroke-width="0.7">C5</text>
<text transform="matrix(0.94 0 0 1 451.25 2211.5)" font-size="35.6" stroke-width="0.7">D</text>
<text transform="matrix(0.94 0 0 1 527.6 2213.7)" font-size="35.6" stroke-width="0.7">C1</text>
<text transform="matrix(0.94 0 0 1 635.05 2190.6)" font-size="35.6" stroke-width="0.7">F</text>
<text transform="matrix(0.94 0 0 1 818.1 2210.7)" font-size="35.6" stroke-width="0.7">C</text>
<text transform="matrix(0.94 0 0 1 1010.85 2215.7)" font-size="35.6" stroke-width="0.7">B1</text>
<text transform="matrix(0.94 0 0 1 1191.65 2214.7)" font-size="35.6" stroke-width="0.7">B1</text>
<text transform="matrix(0.94 0 0 1 1538.5 2215.9)" font-size="35.6" stroke-width="0.7">C3</text>
<text transform="matrix(0.94 0 0 1 1652.93 2215)" font-size="35.6" stroke-width="0.7">A</text>
<text transform="matrix(0.94 0 0 1 1874.58 2212.4)" font-size="35.6" stroke-width="0.7">J</text>
<text transform="matrix(0.94 0 0 1 2123.65 2211.5)" font-size="35.6" stroke-width="0.7">F</text>
<text transform="matrix(0.94 0 0 1 2449.95 2211.5)" font-size="35.6" stroke-width="0.7">F</text>
<text transform="matrix(0.94 0 0 1 2787.65 2211.5)" font-size="35.6" stroke-width="0.7">1</text>
<text transform="matrix(0.94 0 0 1 2997.02 2213.2)" font-size="35.6" stroke-width="0.7">30</text>
<text transform="matrix(0.94 0 0 1 3418.32 2213.2)" font-size="35.6" stroke-width="0.7">30</text>
<text transform="matrix(0.94 0 0 1 912.25 2440.2)" font-size="35.6" stroke-width="0.7">Radio</text>
<text transform="matrix(0.94 0 0 1 2100.32 876.2)" font-size="35.6" stroke-width="0.7">3540</text>
<text transform="matrix(0.94 0 0 1 2098.85 908.9)" font-size="35.6" stroke-width="0.7">RD/WH</text>
<text transform="matrix(0.94 0 0 1 2100.32 942)" font-size="35.6" stroke-width="0.7">3</text>
<text transform="matrix(0.94 0 0 1 2979.15 1107.1)" font-size="35.6" stroke-width="0.7">1340</text>
<text transform="matrix(0.94 0 0 1 2980.11 1139.7)" font-size="35.6" stroke-width="0.7">OG</text>
<text transform="matrix(0.94 0 0 1 2979.15 1172.8)" font-size="35.6" stroke-width="0.7">1</text>
<text transform="matrix(0.94 0 0 1 3402.95 1105.8)" font-size="35.6" stroke-width="0.7">1340</text>
<text transform="matrix(0.94 0 0 1 3403.91 1138.4)" font-size="35.6" stroke-width="0.7">OG</text>
<text transform="matrix(0.94 0 0 1 3402.95 1171.5)" font-size="35.6" stroke-width="0.7">1</text>
<text transform="matrix(0.94 0 0 1 243.65 1604.5)" font-size="35.6" stroke-width="0.7">1140</text>
<text transform="matrix(0.94 0 0 1 243.45 1638.1)" font-size="35.6" stroke-width="0.7">RD/WH</text>
<text transform="matrix(0.94 0 0 1 244.89 1670.7)" font-size="35.6" stroke-width="0.7">0.35</text>
<text transform="matrix(0.94 0 0 1 430.52 1606.7)" font-size="35.6" stroke-width="0.7">2140</text>
<text transform="matrix(0.94 0 0 1 429.45 1639.8)" font-size="35.6" stroke-width="0.7">RD/WH</text>
<text transform="matrix(0.94 0 0 1 430.89 1672.9)" font-size="35.6" stroke-width="0.7">0.8</text>
<text transform="matrix(0.94 0 0 1 614.72 1606.3)" font-size="35.6" stroke-width="0.7">2240</text>
<text transform="matrix(0.94 0 0 1 613.65 1639.4)" font-size="35.6" stroke-width="0.7">RD/WH</text>
<text transform="matrix(0.94 0 0 1 615.09 1672.5)" font-size="35.6" stroke-width="0.7">0.5</text>
<text transform="matrix(0.94 0 0 1 799.03 1606.7)" font-size="35.6" stroke-width="0.7">4040</text>
<text transform="matrix(0.94 0 0 1 798.21 1639.8)" font-size="35.6" stroke-width="0.7">OG</text>
<text transform="matrix(0.94 0 0 1 797.25 1672.9)" font-size="35.6" stroke-width="0.7">1</text>
<text transform="matrix(0.94 0 0 1 1077.22 1605.4)" font-size="35.6" stroke-width="0.7">340</text>
<text transform="matrix(0.94 0 0 1 1075.75 1638.9)" font-size="35.6" stroke-width="0.7">RD/WH</text>
<text transform="matrix(0.94 0 0 1 1077.19 1671.6)" font-size="35.6" stroke-width="0.7">0.5</text>
<text transform="matrix(0.94 0 0 1 1631.73 1609.8)" font-size="35.6" stroke-width="0.7">4440</text>
<text transform="matrix(0.94 0 0 1 1629.75 1642.9)" font-size="35.6" stroke-width="0.7">RD/WH</text>
<text transform="matrix(0.94 0 0 1 1631.19 1675.5)" font-size="35.6" stroke-width="0.7">0.8</text>
<text transform="matrix(0.94 0 0 1 1848.96 1610.6)" font-size="35.6" stroke-width="0.7">540</text>
<text transform="matrix(0.94 0 0 1 1847.55 1643.7)" font-size="35.6" stroke-width="0.7">RD/WH</text>
<text transform="matrix(0.94 0 0 1 1847.75 1676.8)" font-size="35.6" stroke-width="0.7">1</text>
<text transform="matrix(0.94 0 0 1 2765.85 1607.6)" font-size="35.6" stroke-width="0.7">1240</text>
<text transform="matrix(0.94 0 0 1 2765.65 1640.7)" font-size="35.6" stroke-width="0.7">RD/WH</text>
<text transform="matrix(0.94 0 0 1 2767.09 1673.8)" font-size="35.6" stroke-width="0.7">0.35</text>
<text transform="matrix(0.94 0 0 1 2099.42 1716.5)" font-size="35.6" stroke-width="0.7">3540</text>
<text transform="matrix(0.94 0 0 1 2097.95 1749.6)" font-size="35.6" stroke-width="0.7">RD/WH</text>
<text transform="matrix(0.94 0 0 1 2099.42 1782.7)" font-size="35.6" stroke-width="0.7">3</text>
<text transform="matrix(0.94 0 0 1 2427.42 1679.4)" font-size="35.6" stroke-width="0.7">3540</text>
<text transform="matrix(0.94 0 0 1 2425.95 1712.1)" font-size="35.6" stroke-width="0.7">RD/WH</text>
<text transform="matrix(0.94 0 0 1 2427.42 1745.2)" font-size="35.6" stroke-width="0.7">3</text>
<text transform="matrix(0.94 0 0 1 2099.42 2046.6)" font-size="35.6" stroke-width="0.7">3540</text>
<text transform="matrix(0.94 0 0 1 2097.95 2079.7)" font-size="35.6" stroke-width="0.7">RD/WH</text>
<text transform="matrix(0.94 0 0 1 2099.42 2112.6)" font-size="35.6" stroke-width="0.7">3</text>
<text transform="matrix(0.94 0 0 1 2427.42 2066.2)" font-size="35.6" stroke-width="0.7">3540</text>
<text transform="matrix(0.94 0 0 1 2425.95 2099.3)" font-size="35.6" stroke-width="0.7">RD/WH</text>
<text transform="matrix(0.94 0 0 1 2427.42 2133.1)" font-size="35.6" stroke-width="0.7">3</text>
<text transform="matrix(0.94 0 0 1 2497.05 1090.5)" font-size="35.6" stroke-width="0.7">Fuse</text>
<text transform="matrix(0.94 0 0 1 2497.05 1123.6)" font-size="35.6" stroke-width="0.7">Block –</text>
<text transform="matrix(0.94 0 0 1 2497.05 1156.7)" font-size="35.6" stroke-width="0.7">Body</text>
<text transform="matrix(0.94 0 0 1 772.71 2567.3)" font-size="35.6" stroke-width="0.7">Body</text>
<text transform="matrix(0.94 0 0 1 743.25 2600.9)" font-size="35.6" stroke-width="0.7">Control</text>
<text transform="matrix(0.94 0 0 1 740.62 2634)" font-size="35.6" stroke-width="0.7">Module</text>
<text transform="matrix(0.94 0 0 1 754.32 2667.5)" font-size="35.6" stroke-width="0.7">(BCM)</text>
<text transform="matrix(0.94 0 0 1 1090.4 2439.3)" font-size="35.6" stroke-width="0.7">Chime</text>
<text transform="matrix(0.94 0 0 1 1089.35 2472.4)" font-size="35.6" stroke-width="0.7">Module</text>
<text transform="matrix(0.94 0 0 1 1549.25 2434.9)" font-size="35.6" stroke-width="0.7">HVAC</text>
<text transform="matrix(0.94 0 0 1 1550.3 2467.6)" font-size="35.6" stroke-width="0.7">Control</text>
<text transform="matrix(0.94 0 0 1 1551.93 2500.3)" font-size="35.6" stroke-width="0.7">Assembly</text>
<text transform="matrix(0.94 0 0 1 1772.05 2438)" font-size="35.6" stroke-width="0.7">Turn Signal/</text>
<text transform="matrix(0.94 0 0 1 1770.05 2471.1)" font-size="35.6" stroke-width="0.7">Hazard</text>
<text transform="matrix(0.94 0 0 1 1770.05 2504.6)" font-size="35.6" stroke-width="0.7">Flasher</text>
<text transform="matrix(0.94 0 0 1 1770.05 2537.7)" font-size="35.6" stroke-width="0.7">Module</text>
<text transform="matrix(0.94 0 0 1 2023.48 2437.1)" font-size="35.6" stroke-width="0.7">Seat</text>
<text transform="matrix(0.94 0 0 1 2024.93 2470.2)" font-size="35.6" stroke-width="0.7">Adjuster</text>
<text transform="matrix(0.94 0 0 1 2023.48 2503.3)" font-size="35.6" stroke-width="0.7">Switch –</text>
<text transform="matrix(0.94 0 0 1 2022.25 2536)" font-size="35.6" stroke-width="0.7">Driver</text>
<text transform="matrix(0.94 0 0 1 2349.18 2437.1)" font-size="35.6" stroke-width="0.7">Seat</text>
<text transform="matrix(0.94 0 0 1 2350.63 2470.2)" font-size="35.6" stroke-width="0.7">Adjuster</text>
<text transform="matrix(0.94 0 0 1 2349.18 2503.3)" font-size="35.6" stroke-width="0.7">Switch –</text>
<text transform="matrix(0.94 0 0 1 2347.95 2536)" font-size="35.6" stroke-width="0.7">Passenger</text>
<text transform="matrix(0.94 0 0 1 2683.35 2438)" font-size="35.6" stroke-width="0.7">Remote</text>
<text transform="matrix(0.94 0 0 1 2684.4 2471.1)" font-size="35.6" stroke-width="0.7">Control</text>
<text transform="matrix(0.94 0 0 1 2683.35 2504.2)" font-size="35.6" stroke-width="0.7">Door</text>
<text transform="matrix(0.94 0 0 1 2683.35 2537.7)" font-size="35.6" stroke-width="0.7">Lock</text>
<text transform="matrix(0.94 0 0 1 2683.35 2570.8)" font-size="35.6" stroke-width="0.7">Receiver</text>
<text transform="matrix(0.94 0 0 1 2684.02 2603.5)" font-size="35.6" stroke-width="0.7">(RCDLR)</text>
<text transform="matrix(0.94 0 0 1 3206.65 2265.8)" font-size="35.6" stroke-width="0.7">Trailer</text>
<text transform="matrix(0.94 0 0 1 3205.88 2301)" font-size="35.6" stroke-width="0.7">Stop/</text>
<text transform="matrix(0.94 0 0 1 3206.65 2333.8)" font-size="35.6" stroke-width="0.7">Turn</text>
<text transform="matrix(0.94 0 0 1 3204.65 2366.9)" font-size="35.6" stroke-width="0.7">Relay –</text>
<text transform="matrix(0.94 0 0 1 3204.65 2406.6)" font-size="35.6" stroke-width="0.7">Left</text>
<text transform="matrix(0.94 0 0 1 3635.55 2265.8)" font-size="35.6" stroke-width="0.7">Trailer</text>
<text transform="matrix(0.94 0 0 1 3634.78 2301)" font-size="35.6" stroke-width="0.7">Stop/</text>
<text transform="matrix(0.94 0 0 1 3635.55 2333.8)" font-size="35.6" stroke-width="0.7">Turn</text>
<text transform="matrix(0.94 0 0 1 3633.55 2366.9)" font-size="35.6" stroke-width="0.7">Relay –</text>
<text transform="matrix(0.94 0 0 1 3633.55 2406.6)" font-size="35.6" stroke-width="0.7">Right</text>
</svg>
</body>
</html>
